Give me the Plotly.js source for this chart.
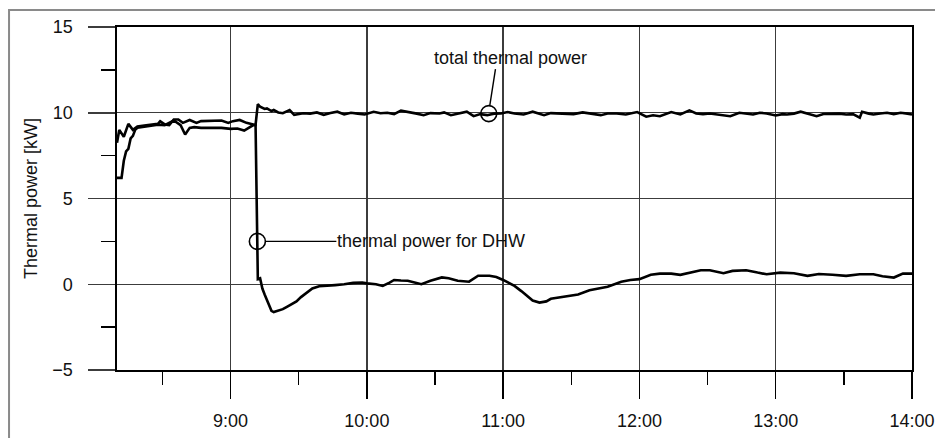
<!DOCTYPE html>
<html>
<head>
<meta charset="utf-8">
<script src="https://cdn.plot.ly/plotly-3.0.1.min.js"></script>
<style>
  html, body { margin: 0; padding: 0; background: #ffffff; overflow: hidden; }
  #chart { width: 935px; height: 438px; }
</style>
</head>
<body>
<div id="chart"></div>
<script>
// ---- data ----
const totalTime = ['8:10','8:11','8:13','8:15','8:17','8:19','8:22','8:25','8:28','8:29','8:31','8:33','8:35','8:37','8:39','8:42','8:45','8:47','8:50','8:53','8:56','8:59','9:01','9:04','9:07','9:10','9:11',
  '9:12','9:13','9:15','9:16','9:18','9:19','9:21','9:23','9:26','9:28','9:32','9:35','9:38','9:41','9:44','9:47','9:50','9:53','9:56','9:59',
  '10:03','10:06','10:09','10:12','10:15','10:19','10:22','10:25','10:28','10:32','10:34','10:37','10:40','10:44','10:47','10:50','10:53','10:56','10:59',
  '11:02','11:05','11:09','11:13','11:18','11:21','11:24','11:28','11:31','11:35','11:39','11:43','11:46','11:50','11:54','11:57','11:59',
  '12:03','12:06','12:09','12:14','12:18','12:22','12:25','12:28','12:31','12:35','12:40','12:44','12:47','12:50','12:53','12:56',
  '13:00','13:03','13:05','13:08','13:11','13:14','13:18','13:21','13:25','13:28','13:31','13:34','13:37','13:38','13:41','13:43','13:46','13:49','13:52','13:55','13:58','14:00'];
const totalPower = [8.25,9.0,8.6,9.35,9.0,9.2,9.25,9.28,9.35,9.5,9.32,9.28,9.61,9.61,9.41,9.58,9.41,9.51,9.51,9.51,9.55,9.41,9.51,9.58,9.41,9.32,9.3,
  10.5,10.35,10.22,10.25,10.1,10.16,10.02,9.97,10.16,9.88,9.97,9.95,10.02,9.88,9.98,10.06,9.9,10.0,9.95,9.9,
  10.06,9.97,10.0,9.92,10.12,10.04,9.95,9.86,9.98,9.96,10.02,9.86,9.95,10.06,9.8,9.92,9.86,9.95,9.96,
  10.04,9.96,9.9,10.06,9.86,9.98,9.96,9.9,9.92,10.02,9.95,9.86,9.96,9.96,9.9,9.96,10.04,
  9.77,9.85,9.8,10.04,9.9,10.14,9.96,9.92,9.96,9.9,9.8,10.0,9.95,9.9,10.0,9.96,
  9.84,9.92,9.9,9.95,10.06,9.95,9.8,9.93,9.96,9.95,9.9,9.92,9.71,10.06,9.95,9.9,9.96,10.0,9.92,10.0,9.95,9.9];

const dhwTime = ['8:10','8:12','8:13','8:14','8:15','8:16','8:17','8:18','8:19','8:22','8:25','8:28','8:31','8:35','8:38','8:40','8:42','8:44','8:47','8:51','8:56','9:00','9:03','9:06','9:08','9:10','9:11',
  '9:12','9:13','9:14','9:15','9:16','9:17','9:18','9:19','9:21','9:23','9:25','9:27','9:29','9:31','9:33','9:36','9:39','9:42','9:46','9:50','9:54','9:58',
  '10:00','10:04','10:07','10:10','10:12','10:15','10:18','10:21','10:24','10:28','10:33','10:36','10:40','10:45','10:49','10:54','10:57',
  '11:00','11:05','11:08','11:11','11:13','11:16','11:19','11:21','11:24','11:27','11:33','11:38','11:42','11:46','11:52','11:56',
  '12:00','12:05','12:09','12:14','12:18','12:22','12:27','12:31','12:37','12:41','12:47','12:52','12:56',
  '13:02','13:08','13:14','13:19','13:25','13:31','13:37','13:43','13:47','13:52','13:56','14:00'];
const dhwPower = [6.2,6.2,7.2,7.75,7.9,8.5,8.65,9.0,9.12,9.2,9.25,9.3,9.28,9.55,9.28,8.73,9.12,9.16,9.12,9.12,9.12,9.06,9.08,8.96,9.12,9.28,9.3,
  0.3,0.35,-0.25,-0.6,-0.95,-1.3,-1.55,-1.62,-1.55,-1.45,-1.3,-1.15,-1.0,-0.75,-0.55,-0.25,-0.12,-0.1,-0.05,0.0,0.08,0.1,
  0.05,0.0,-0.1,0.1,0.25,0.22,0.2,0.1,0.0,0.2,0.4,0.35,0.2,0.15,0.5,0.5,0.42,
  0.25,-0.1,-0.4,-0.75,-0.95,-1.07,-1.0,-0.85,-0.78,-0.7,-0.6,-0.35,-0.25,-0.15,0.15,0.25,
  0.3,0.55,0.62,0.62,0.55,0.68,0.82,0.82,0.64,0.78,0.82,0.68,0.58,
  0.68,0.64,0.49,0.6,0.55,0.49,0.58,0.58,0.47,0.39,0.62,0.62];

const xRange = ['8:10', '14:00'];
const yRange = [-5, 15];
const totalLabelText = 'total thermal power';
const totalLabelAt = ['10:53:40', 9.95];
const dhwLabelText = 'thermal power for DHW';
const dhwLabelAt = ['9:11:48', 2.5];
const yTitle = 'Thermal power [kW]';

// ---- helpers ----
function toDate(t) {
  const p = t.split(':');
  const hh = p[0].padStart(2, '0');
  const rest = p.slice(1).join(':');
  return '2000-01-01 ' + hh + ':' + rest;
}

const FONT = 'Liberation Sans, Arial, Helvetica, sans-serif';
const GRID = '#3c3c3c';
const TXT = '#111111';

const traces = [
  { x: totalTime.map(toDate), y: totalPower, type: 'scatter', mode: 'lines',
    line: { color: '#000000', width: 2.6 }, name: 'total thermal power', hoverinfo: 'skip' },
  { x: dhwTime.map(toDate), y: dhwPower, type: 'scatter', mode: 'lines',
    line: { color: '#000000', width: 2.6 }, name: 'thermal power for DHW', hoverinfo: 'skip' }
];

const dhwX = toDate(dhwLabelAt[0]);
const totX = toDate(totalLabelAt[0]);

const shapes = [
  // outer picture frame (open to the right and bottom, as in the reference)
  { type: 'rect', xref: 'paper', yref: 'paper', x0: -0.1358, x1: 1.2, y0: -0.3, y1: 1.0496,
    line: { color: '#8a8a8a', width: 2 }, fillcolor: 'rgba(0,0,0,0)', layer: 'above' },
  { type: 'circle', xref: 'x', yref: 'y', xsizemode: 'pixel', ysizemode: 'pixel',
    xanchor: dhwX, yanchor: dhwLabelAt[1], x0: -8, x1: 8, y0: -8, y1: 8,
    line: { color: '#000000', width: 1.6 } },
  { type: 'line', xref: 'x', yref: 'y', xsizemode: 'pixel', ysizemode: 'pixel',
    xanchor: dhwX, yanchor: dhwLabelAt[1], x0: 8, x1: 79, y0: 0, y1: 0,
    line: { color: '#000000', width: 1.4 } },
  { type: 'circle', xref: 'x', yref: 'y', xsizemode: 'pixel', ysizemode: 'pixel',
    xanchor: totX, yanchor: totalLabelAt[1], x0: -8, x1: 8, y0: -8, y1: 8,
    line: { color: '#000000', width: 1.6 } },
  { type: 'line', xref: 'x', yref: 'y', xsizemode: 'pixel', ysizemode: 'pixel',
    xanchor: totX, yanchor: totalLabelAt[1], x0: 1, x1: 6.7, y0: 8, y1: 44.5,
    line: { color: '#000000', width: 1.4 } }
];

const annotations = [
  { x: dhwX, y: dhwLabelAt[1], xref: 'x', yref: 'y', text: dhwLabelText, showarrow: false,
    xanchor: 'left', yanchor: 'middle', xshift: 78, yshift: 0,
    font: { family: FONT, size: 18, color: TXT } },
  { x: totX, y: totalLabelAt[1], xref: 'x', yref: 'y', text: totalLabelText, showarrow: false,
    xanchor: 'center', yanchor: 'middle', xshift: 22, yshift: 56,
    font: { family: FONT, size: 18, color: TXT } }
];

const layout = {
  width: 935, height: 438,
  margin: { l: 117, r: 23, t: 27, b: 68, pad: 0 },
  paper_bgcolor: '#ffffff', plot_bgcolor: '#ffffff',
  showlegend: false,
  font: { family: FONT, size: 18, color: TXT },
  xaxis: {
    type: 'date',
    range: xRange.map(toDate),
    tick0: toDate('9:00'), dtick: 3600000, tickformat: '%-H:%M',
    ticks: 'outside', ticklen: 27, tickwidth: 1.5, tickcolor: '#000000',
    ticklabelstandoff: 7,
    showgrid: true, gridcolor: GRID, gridwidth: 1.4,
    showline: true, linecolor: '#000000', linewidth: 1.6, mirror: true,
    zeroline: false,
    minor: { dtick: 1800000, tick0: toDate('9:00'), ticks: 'outside', ticklen: 13, tickwidth: 1.5, tickcolor: '#000000', showgrid: false },
    tickfont: { family: FONT, size: 18, color: TXT },
    fixedrange: true
  },
  yaxis: {
    range: yRange, tick0: 0, dtick: 5,
    ticks: 'outside', ticklen: 27, tickwidth: 1.5, tickcolor: GRID,
    ticklabelstandoff: 12,
    showgrid: true, gridcolor: GRID, gridwidth: 1.4,
    showline: true, linecolor: '#000000', linewidth: 1.6, mirror: true,
    zeroline: false,
    minor: { dtick: 2.5, tick0: 0, ticks: 'outside', ticklen: 14, tickwidth: 1.5, tickcolor: '#000000', showgrid: false },
    tickfont: { family: FONT, size: 18, color: TXT },
    title: { text: yTitle, font: { family: FONT, size: 18, color: TXT }, standoff: 10 },
    automargin: false,
    fixedrange: true
  },
  shapes: shapes,
  annotations: annotations
};

Plotly.newPlot('chart', traces, layout, { displayModeBar: false, staticPlot: true });
</script>
</body>
</html>
